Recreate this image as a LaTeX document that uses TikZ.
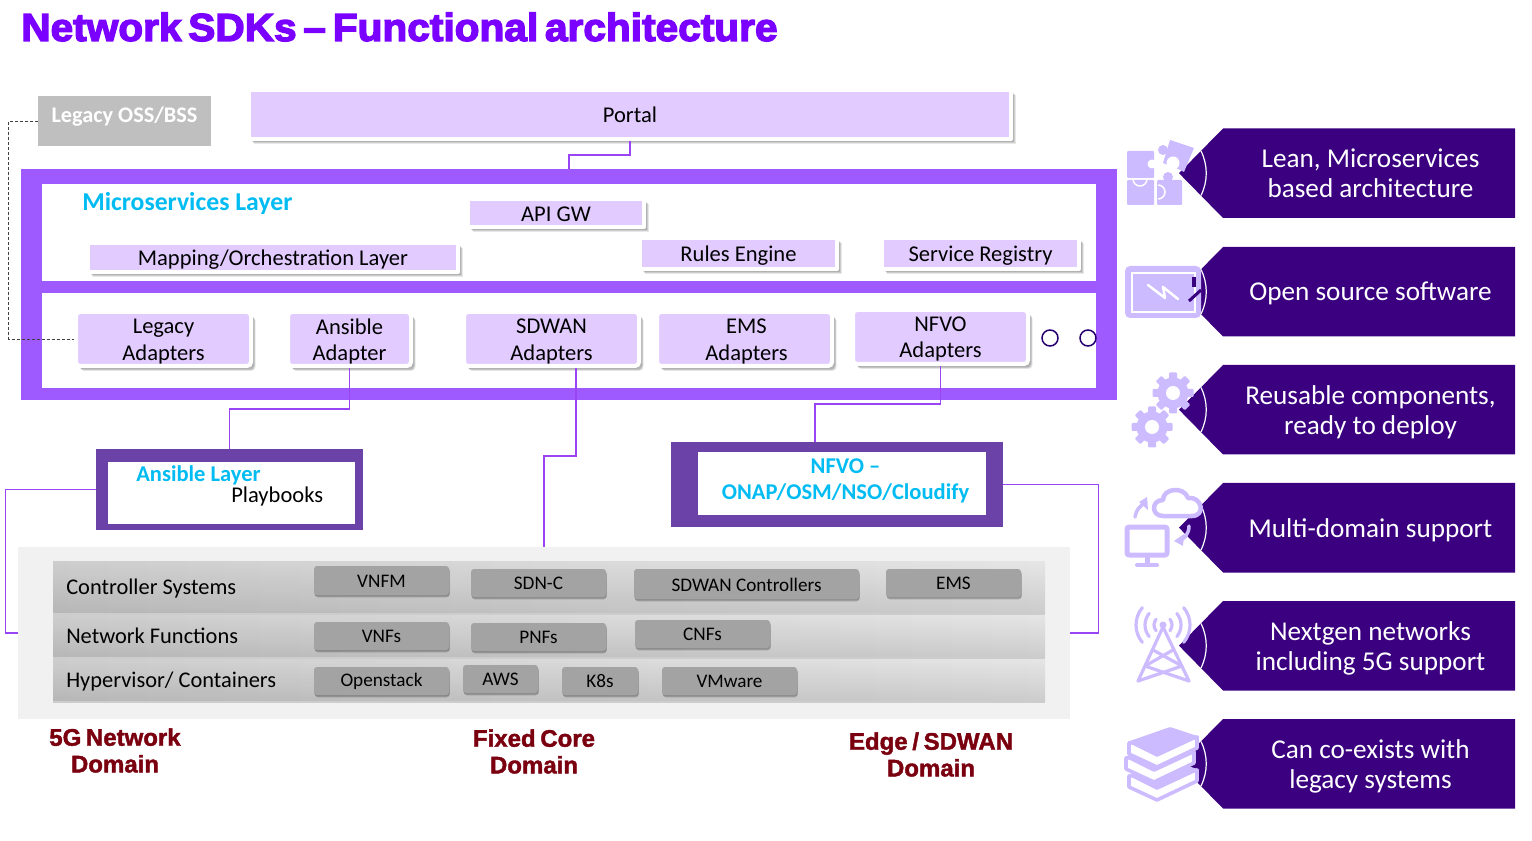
\documentclass[tikz,border=0pt]{standalone}
\usepackage{fontspec}
\setmainfont{Carlito}
\newfontfamily\titlefont[BoldFeatures={FakeBold=3.5,FakeStretch=1.04},WordSpace=0.6]{Liberation Sans}
\newfontfamily\domfont[BoldFeatures={FakeBold=1.6},WordSpace=0.7]{Liberation Sans}
\usetikzlibrary{shadows,calc,fadings}
\newlength\px \setlength\px{0.75pt}
\definecolor{lav}{HTML}{E2CBFF}
\definecolor{framec}{HTML}{9E5AFF}
\definecolor{layerc}{HTML}{6B42A8}
\definecolor{conn}{HTML}{9A45F5}
\definecolor{cyanc}{HTML}{00BCF2}
\definecolor{tagc}{HTML}{3A0080}
\definecolor{iconc}{HTML}{CDBBFF}
\definecolor{btn}{HTML}{A3A3A3}
\definecolor{plat}{HTML}{F1F1F1}
\definecolor{domc}{HTML}{7A0010}
\definecolor{titlec}{HTML}{7A00FF}
\tikzset{
  softshadow/.style={drop shadow={shadow xshift=4.5\px,shadow yshift=-5\px,fill=black,opacity=.09},
                     drop shadow={shadow xshift=3.8\px,shadow yshift=-4.2\px,fill=black,opacity=.12},
                     drop shadow={shadow xshift=3\px,shadow yshift=-3.4\px,fill=black,opacity=.12}},
  base/.style={inner sep=0pt,align=center,font=\fontsize{16.9}{20}\selectfont,text=black},
  btntext/.style={inner sep=0pt,align=center,font=\fontsize{14.4}{17}\selectfont,text=black},
  osstext/.style={inner sep=0pt,align=center,text=white,font=\fontsize{16.7}{20}\selectfont\bfseries},
  lavsq/.style={inner sep=0pt,fill=lav,draw=white,line width=4\px,line join=round,softshadow},
  lavrd/.style={inner sep=0pt,fill=lav,draw=white,line width=4\px,rounded corners=4\px,softshadow},
  ossbox/.style={inner sep=0pt,fill=black!25},
  framebox/.style={inner sep=0pt,fill=framec},
  layerbox/.style={inner sep=0pt,fill=layerc},
  whitebox/.style={inner sep=0pt,fill=white},
  platform/.style={inner sep=0pt,fill=plat},
  rowbox/.style={inner sep=0pt,top color=black!10,bottom color=black!20,
     path picture={\fill[black,opacity=.1,path fading=east] (path picture bounding box.south west) rectangle (path picture bounding box.north east);},
     drop shadow={shadow xshift=0pt,shadow yshift=-2\px,fill=black,opacity=.15},
     drop shadow={shadow xshift=0pt,shadow yshift=-1.2\px,fill=black,opacity=.2}},
  rowtext/.style={inner sep=0pt,anchor=west,font=\fontsize{16.8}{20}\selectfont},
  button/.style={inner sep=0pt,fill=btn,rounded corners=3\px,
     drop shadow={shadow xshift=0.8\px,shadow yshift=-2.5\px,fill=black,opacity=.12},
     drop shadow={shadow xshift=0.6\px,shadow yshift=-1.6\px,fill=black,opacity=.2}},
  cyantext/.style={inner sep=0pt,text=cyanc,align=center,font=\fontsize{16.9}{19.5}\selectfont\bfseries},
  wire/.style={draw=conn,line width=1.2\px},
  dashwire/.style={draw=black!75,line width=0.9\px,dash pattern=on 3\px off 2\px},
  dots/.style={circle,draw=black!25!tagc!90!blue,line width=1.5\px,minimum size=16\px,inner sep=0pt},
  domtext/.style={inner sep=0pt,align=center,text=domc,font=\domfont\fontsize{18}{20}\selectfont\bfseries},
  tagtext/.style={inner sep=0pt,align=center,text=white,font=\fontsize{20.4}{22.5}\selectfont},
  tagbody/.style={fill=tagc},
  tagarc/.style={draw=white,line width=1.2\px},
  iconf/.style={fill=iconc},
  icond/.style={draw=iconc,line join=round,line cap=round},
}
\def\bt{base}\def\txo{0}\def\tyo{0}
\newcommand\pbox[7][]{%
  \pgfmathsetmacro\cx{(#3+#5)/2}\pgfmathsetmacro\cy{(#4+#6)/2}%
  \pgfmathsetmacro\ww{#5-#3}\pgfmathsetmacro\hh{#6-#4}%
  \node[#1,minimum width=\ww\px,minimum height=\hh\px] (#2) at (\cx,\cy) {};
  \node[\bt] (#2t) at (\cx+\txo,\cy+\tyo) {#7};}
\newcommand\lbox[7][]{%
  \pgfmathsetmacro\cx{(#3+#5)/2}\pgfmathsetmacro\cy{(#4+#6)/2}%
  \pgfmathsetmacro\ww{#5-#3+4}\pgfmathsetmacro\hh{#6-#4+4}%
  \node[#1,minimum width=\ww\px,minimum height=\hh\px] (#2) at (\cx,\cy) {};
  \node[\bt] (#2t) at (\cx+\txo,\cy+\tyo) {#7};}
\newcommand\tagshape[4]{%
  \pgfmathsetmacro\tb{#1+89.5}\pgfmathsetmacro\tm{#1+44.7}%
  \pgfmathsetmacro\au{#1+22.5}\pgfmathsetmacro\ad{#1+67}%
  \fill[tagbody] (1223,#1) -- (1515,#1) -- (1515,\tb) -- (1223,\tb) -- (1179,\tm) -- cycle;
  \draw[tagarc] (1201,\au) .. controls (1208,\tm-8) and (1208,\tm+8) .. (1201,\ad);
  \node[tagtext] (#2) at (1370.5,\tm+#3) {#4};}
\newcommand\gearicon[2]{%
  \fill[iconf] (#1,#2) circle (15.5);
  \foreach \a in {0,45,...,315}
    \fill[iconf,shift={(#1,#2)},rotate=\a,rounded corners=1\px] (-4,-20.5) rectangle (4,-12);
  \fill[white] (#1,#2) circle (7);}
\begin{document}
\begin{tikzpicture}[x=0.75pt,y=-0.75pt]
\useasboundingbox (0,0) rectangle (1532,841);
% title
\node[inner sep=0pt,anchor=base west,text=titlec,font=\titlefont\fontsize{29.3}{32}\selectfont\bfseries] (title) at (21,41) {Network SDKs – Functional architecture};
% top row
\def\bt{osstext}\def\tyo{-4.5}
\pbox[ossbox]{oss}{38}{96}{211}{146}{Legacy OSS/BSS}
\def\bt{base}\def\tyo{0.3}
\lbox[lavsq]{portal}{251}{92}{1009}{137}{Portal}
% frame
\pbox[framebox]{frame}{21}{169}{1117}{400}{}
\pbox[whitebox]{upper}{42}{184}{1096}{281}{}
\pbox[whitebox]{lower}{42}{293}{1096}{388}{}
\node[cyantext,anchor=west,font=\fontsize{19.3}{22}\selectfont\bfseries] (mslabel) at (82,203) {Microservices Layer};
\def\tyo{1.5}
\lbox[lavsq]{apigw}{470}{201}{642}{225}{API GW}
\def\tyo{2.5}
\lbox[lavsq]{mapping}{90}{245}{456}{270}{Mapping/Orchestration Layer}
\lbox[lavsq]{rules}{642}{240}{835}{267}{Rules Engine}
\lbox[lavsq]{registry}{884}{240}{1077}{267}{Service Registry}
\lbox[lavrd]{legadp}{78}{314}{249}{364}{Legacy\\Adapters}
\lbox[lavrd]{ansadp}{290}{314}{409}{364}{Ansible\\Adapter}
\lbox[lavrd]{sdwan}{466}{314}{637}{364}{SDWAN\\Adapters}
\def\txo{2}
\lbox[lavrd]{emsadp}{659}{314}{830}{364}{EMS\\Adapters}
\def\txo{0}\def\tyo{2}
\lbox[lavrd]{nfvoadp}{855}{312}{1026}{362}{NFVO\\Adapters}
\node[dots] (dot1) at (1050,338) {};
\node[dots] (dot2) at (1088,338) {};
% layers
\def\tyo{0}
\pbox[layerbox]{anslayer}{96}{449}{363}{530}{}
\pbox[whitebox]{ansin}{108}{462}{355}{524}{}
\node[cyantext,anchor=west] (anslabel) at (136,475) {Ansible Layer};
\node[inner sep=0pt,anchor=west,font=\fontsize{16.9}{20}\selectfont] (playb) at (231,496) {Playbooks};
\pbox[layerbox]{nfvolayer}{671}{442}{1003}{527}{}
\pbox[whitebox]{nfvoin}{698}{452}{986}{515}{}
\node[cyantext] (nfvolabel) at (845.5,480.5) {NFVO –\\ONAP/OSM/NSO/Cloudify};
% platform
\pbox[platform]{plat}{18}{547}{1070}{719}{}
\pbox[rowbox]{row1}{53}{561}{1045}{613}{}
\pbox[rowbox]{row2}{53}{615}{1045}{657}{}
\pbox[rowbox]{row3}{53}{659}{1045}{701}{}
\node[rowtext] (r1) at (66,588.5) {Controller Systems};
\node[rowtext] (r2) at (66,635.5) {Network Functions};
\node[rowtext] (r3) at (66,681.5) {Hypervisor/ Containers};
\def\bt{btntext}\def\tyo{0.5}
\pbox[button]{vnfm}{314}{566}{449}{595}{VNFM}
\pbox[button]{sdnc}{471}{569}{606}{597}{SDN-C}
\pbox[button]{sdwanc}{634}{569}{859}{599}{SDWAN Controllers}
\pbox[button]{emsb}{886}{569}{1021}{597}{EMS}
\pbox[button]{vnfs}{314}{622}{449}{650}{VNFs}
\pbox[button]{pnfs}{471}{623}{606}{651}{PNFs}
\pbox[button]{cnfs}{635}{620}{770}{648}{CNFs}
\pbox[button]{openst}{314}{667}{449}{695}{Openstack}
\pbox[button]{aws}{463}{665}{538}{693}{AWS}
\pbox[button]{ks}{562}{667}{638}{695}{K8s}
\pbox[button]{vmw}{662}{667}{797}{695}{VMware}
% domains
\node[domtext] (d1) at (115,750.5) {5G Network\\Domain};
\node[domtext] (d2) at (534,751.5) {Fixed Core\\Domain};
\node[domtext] (d3) at (931,754.5) {Edge / SDWAN\\Domain};
% connectors
\draw[wire] (portal.south) -- ++(0,14) -| (frame.north);
\draw[wire] (ansadp.south) -- ++(0,41) -| (anslayer.north);
\draw[wire] ([xshift=24.5\px]sdwan.south) -- ++(0,88) -| (plat.north);
\draw[wire] (nfvoadp.south) -- ++(0,38) -| ([xshift=-22\px]nfvolayer.north);
\draw[wire] (anslayer.west) -- ++(-90,0) |- (plat.west);
\draw[wire] (nfvolayer.east) -- ++(95,0) |- (plat.east);
\draw[dashwire] (oss.west) -- ++(-29,0) |- (legadp.west);
% tags
\tagshape{128.5}{t1}{0.5}{Lean, Microservices\\based architecture}
\tagshape{247}{t2}{2}{Open source software}
\tagshape{365}{t3}{2.5}{Reusable components,\\ready to deploy}
\tagshape{483}{t4}{2.5}{Multi-domain support}
\tagshape{601}{t5}{2.5}{Nextgen networks\\including 5G support}
\tagshape{719}{t6}{2.5}{Can co-exists with\\legacy systems}
% icon 1: puzzle
\fill[iconf,rounded corners=1\px] (1127,151) rectangle (1154,178);
\fill[iconf,rounded corners=1\px] (1127,180) rectangle (1154,205);
\fill[iconf,rounded corners=1\px] (1157,180) rectangle (1182,205);
\fill[iconf] (1168,177) circle (5);
\fill[iconf] (1170,140) -- (1194,148) -- (1184,172) -- (1176,168) -- (1163,163) -- cycle;
\fill[iconf] (1163,150) circle (5);
\fill[white] (1152,164) circle (4.5);
\fill[white] (1173,163) circle (6.5);
\draw[white,line width=1.5\px] (1133,179) arc (180:0:7);
\draw[white,line width=1.5\px] (1158,185) arc (-90:90:7);
% icon 2: screen
\fill[iconf,rounded corners=5\px] (1125,266) rectangle (1201,318);
\draw[white,line width=2.5\px] (1132,273) rectangle (1195,312);
\draw[white,line width=2.5\px,line cap=round,line join=round] (1148,285) -- (1165,298) -- (1163,287) -- (1178,299);
\draw[tagc,line width=4\px] (1194,277) -- (1194,287);
\draw[tagc,line width=3\px] (1189,301) -- (1201,290);
% icon 3: gears
\gearicon{1173}{393}
\gearicon{1152}{427}
% icon 4: monitor and cloud
\draw[icond,line width=5\px,rounded corners=2\px] (1127,527) rectangle (1167,555);
\draw[icond,line width=5\px] (1147,557) -- (1147,564);
\draw[icond,line width=4\px] (1137,565) -- (1157,565);
\draw[icond,line width=4.5\px,fill=white] (1163,516) .. controls (1151,516) and (1151,500) .. (1163,500) .. controls (1163,488) and (1184,486) .. (1188,498) .. controls (1202,496) and (1206,516) .. (1192,516) -- cycle;
\draw[icond,line width=3.5\px] (1135,517) .. controls (1136,510) and (1140,505) .. (1146,503);
\fill[iconf] (1147,497) -- (1148,510) -- (1139,502) -- cycle;
\draw[icond,line width=3.5\px] (1189,526) .. controls (1189,534) and (1184,540) .. (1178,541);
\fill[iconf] (1174,541) -- (1184,534) -- (1183,546) -- cycle;
% icon 5: antenna
\fill[iconf] (1163,625) circle (3.5);
\foreach \r in {9,18,27}{
  \draw[icond,line width=3.2\px] ($(1163,625)+(-40:\r)$) arc (-40:40:\r);
  \draw[icond,line width=3.2\px] ($(1163,625)+(140:\r)$) arc (140:220:\r);
}
\draw[icond,line width=3.2\px] (1163,627) -- (1138,681);
\draw[icond,line width=3.2\px] (1163,627) -- (1189,681);
\draw[icond,line width=3.2\px] (1153,650) -- (1182,666) -- (1138,681);
\draw[icond,line width=3.2\px] (1173,650) -- (1145,666) -- (1189,681);
% icon 6: books
\foreach \dx/\dy in {0/33,-3/15,0/0}{
  \begin{scope}[shift={(\dx,\dy)}]
    \filldraw[icond,line width=3.6\px,fill=white] (1129,743) -- (1129,754) -- (1157,767) -- (1197,748) -- (1197,737) -- cycle;
    \fill[iconf,rounded corners=1\px] (1127,742) -- (1170,727) -- (1200,737) -- (1157,757) -- cycle;
  \end{scope}
}
\end{tikzpicture}
\end{document}
